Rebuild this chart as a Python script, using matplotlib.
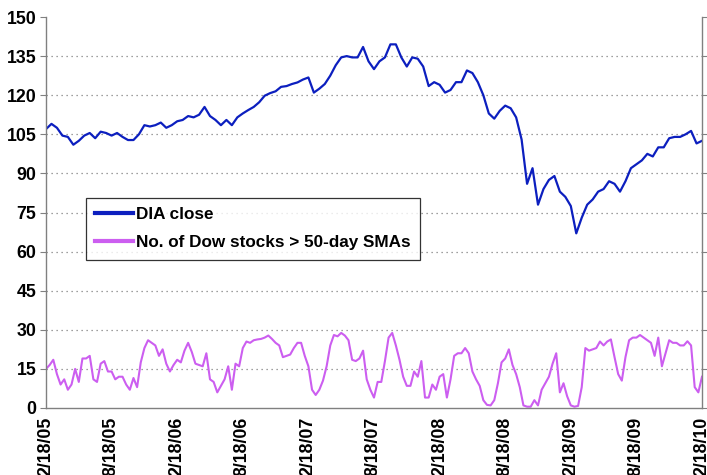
import matplotlib
matplotlib.use("Agg")
import matplotlib.pyplot as plt
import numpy as np
import pandas as pd

dia_close = [
    107, 109, 107.5, 104.5, 104, 101, 102.5, 104.5, 105.5, 103.5,
    106, 105.5, 104.5, 105.5, 104, 102.8, 102.8, 105, 108.5, 108,
    108.5, 109.5, 107.5, 108.5, 110, 110.5, 112, 111.5, 112.5, 115.5,
    112, 110.5, 108.5, 110.5, 108.5, 111.5, 113, 114.3, 115.5, 117.3,
    119.8, 120.8, 121.5, 123.2, 123.5, 124.3, 124.9, 126, 126.8, 121,
    122.5, 124.3, 127.5, 131.5, 134.5, 135, 134.5, 134.5, 138.5, 133,
    130, 133, 134.5, 139.5, 139.5, 134.5, 131, 134.5, 134, 131,
    123.5, 125, 124, 121, 122, 125, 125, 129.5, 128.5, 125,
    120, 113, 111, 114, 116, 115, 111.5, 103, 86, 92,
    78, 84, 87.5, 89, 83, 81, 77.5, 67, 73, 78,
    80, 83, 84, 87, 86, 83, 87, 92, 93.5, 95,
    97.5, 96.5, 100, 100, 103.5, 104, 104, 105, 106.3, 101.5,
    102.5,
]

# No. of Dow stocks above their 50-day SMA, read every ~10 days
dow_above_sma = [
    15, 16.5, 18.5, 13, 9, 11, 7, 9, 15, 10,
    19, 19, 20, 11, 10, 17, 18, 14, 14, 11,
    12, 12, 9, 7, 11.5, 8, 17.5, 23, 26, 25,
    24, 20, 22.5, 17, 14, 16.5, 18.5, 17.5, 22, 25,
    21.5, 17, 16.5, 16, 21, 11, 10, 6, 8.5, 11,
    16, 7, 17, 16, 23, 25.5, 25, 26, 26.3, 26.5,
    27, 27.8, 26.5, 25, 24, 19.5, 20, 20.5, 23, 25,
    25, 20, 16, 7, 5, 7, 10.5, 16, 24, 28,
    27.5, 28.8, 27.8, 26, 18.5, 18, 19, 22, 11, 7,
    4, 10, 10, 18, 27, 28.8, 24, 18.5, 12, 8.5,
    8.5, 14, 12, 18, 4, 4, 9, 7, 12, 13,
    4, 11, 20, 21, 21, 23, 21, 14, 11, 8.5,
    3, 1.2, 1, 3, 9.5, 17.5, 19, 22.5, 16.5, 13,
    8, 1, 0.5, 0.5, 3, 1, 7, 9.5, 12, 17,
    21, 6, 9.5, 4.5, 1, 0.5, 0.8, 8, 23, 22,
    22.5, 23, 25.5, 24, 25.5, 26.3, 19.5, 13, 10.5, 19.5,
    26, 27, 27, 28, 27, 26, 25, 20, 27, 16,
    21, 26, 25, 25, 24, 24, 25.6, 24, 8, 6,
    12,
]

tick_labels = ['2/18/05', '8/18/05', '2/18/06', '8/18/06', '2/18/07',
               '8/18/07', '2/18/08', '8/18/08', '2/18/09', '8/18/09', '2/18/10']

start, end = pd.Timestamp('2005-02-18'), pd.Timestamp('2010-02-18')
dia_dates = pd.date_range(start, end, periods=len(dia_close))
sma_dates = pd.date_range(start, end, periods=len(dow_above_sma))
tick_dates = pd.to_datetime(tick_labels, format='%m/%d/%y')

plt.rcParams['font.family'] = ['Liberation Sans', 'DejaVu Sans']
plt.rcParams['font.weight'] = 'bold'

fig = plt.figure(figsize=(7.07, 4.75), dpi=100)
ax = fig.add_axes([46/707, 67/475, 656/707, 391/475])

# dotted gridlines
for v in range(15, 150, 15):
    ax.axhline(v, ls=(0, (1, 3)), color='#808080', lw=0.9, zorder=0)

ax.plot(dia_dates, dia_close, color='#0c1fbf', lw=1.6, label='DIA close')
ax.plot(sma_dates, dow_above_sma, color='#cc5ef0', lw=1.5,
        label='No. of Dow stocks > 50-day SMAs')

ax.set_ylim(0, 150)
ax.set_yticks(range(0, 151, 15))
ax.set_xlim(start, end)
ax.set_xticks(tick_dates)
ax.set_xticklabels(tick_labels, rotation=90, va='top', ha='center')

ax.tick_params(axis='y', labelsize=12.8, length=4, width=0.8, color='#808080', pad=3,
               right=True)
ax.tick_params(axis='x', labelsize=12.8, length=0, pad=6)
for s in ['left', 'bottom', 'right']:
    ax.spines[s].set_color('#808080')
    ax.spines[s].set_linewidth(1.0)
ax.spines['top'].set_visible(False)

leg = ax.legend(loc='upper left', bbox_to_anchor=(0.061, 0.537), borderaxespad=0,
                fontsize=12.3, frameon=True, fancybox=False, handlelength=2.2,
                handletextpad=0.15, borderpad=0.55, labelspacing=0.75)
leg.get_frame().set_edgecolor('black')
leg.get_frame().set_linewidth(0.9)
for line in leg.get_lines():
    line.set_linewidth(3)

plt.savefig('out.png', dpi=100)
